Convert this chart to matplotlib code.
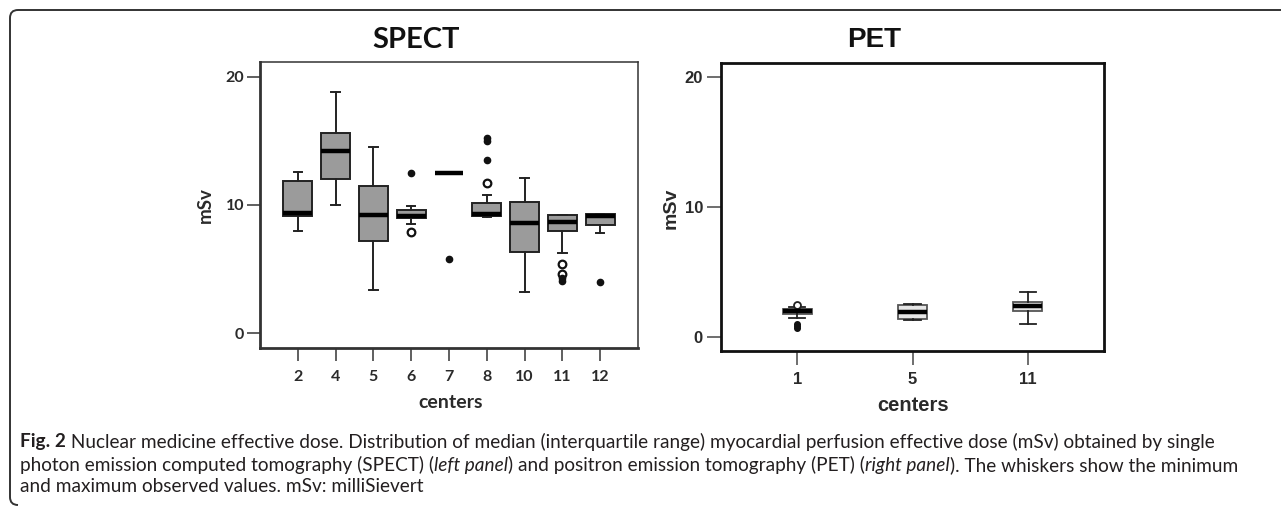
import matplotlib
matplotlib.use("Agg")
import matplotlib.pyplot as plt
from matplotlib.path import Path
from matplotlib.patches import PathPatch

W, H = 1281, 508

# SPECT data (mSv), one entry per center
spect_centers = ["2", "4", "5", "6", "7", "8", "10", "11", "12"]
spect_q1 = [9.16, 12.0, 7.16, 8.96, 12.5, 9.16, 6.35, 7.97, 8.46]
spect_med = [9.35, 14.24, 9.19, 9.16, 12.5, 9.32, 8.62, 8.67, 9.16]
spect_q3 = [11.9, 15.65, 11.48, 9.58, 12.5, 10.18, 10.26, 9.19, 9.27]
spect_lo = [7.97, 10.0, 3.36, 8.5, 12.5, 9.1, 3.18, 6.27, 7.79]
spect_hi = [12.6, 18.8, 14.5, 9.9, 12.5, 10.78, 12.1, 9.19, 9.27]
spect_open = [[], [], [], [7.86], [], [11.7], [], [5.41, 4.63], []]
spect_filled = [[], [], [], [12.47], [5.78], [13.5, 15.0, 15.2], [], [4.3, 4.1], [3.96]]

# PET data (mSv)
pet_centers = ["1", "5", "11"]
pet_q1 = [1.8, 1.44, 2.06]
pet_med = [2.0, 1.98, 2.44]
pet_q3 = [2.2, 2.52, 2.7]
pet_lo = [1.5, 1.35, 1.05]
pet_hi = [2.3, 2.6, 3.5]
pet_open = [[2.5], [], []]
pet_filled = [[1.05, 0.85, 0.75], [], []]

caption = [
    [("Fig. 2", "bold", "normal"),
     (" Nuclear medicine effective dose. Distribution of median (interquartile range) "
      "myocardial perfusion effective dose (mSv) obtained by single", "normal", "normal")],
    [("photon emission computed tomography (SPECT) (", "normal", "normal"),
     ("left panel", "normal", "italic"),
     (") and positron emission tomography (PET) (", "normal", "normal"),
     ("right panel", "normal", "italic"),
     ("). The whiskers show the minimum", "normal", "normal")],
    [("and maximum observed values. mSv: milliSievert", "normal", "normal")],
]
caption_widths = [1242, 1222, None]


def px_axes(l, t, r, b):
    return [l / W, (H - b) / H, (r - l) / W, (b - t) / H]


def stats(q1, med, q3, lo, hi):
    return [dict(q1=a, med=m, q3=c, whislo=d, whishi=e, fliers=[])
            for a, m, c, d, e in zip(q1, med, q3, lo, hi)]


fig = plt.figure(figsize=(W / 100, H / 100), dpi=100)
dark = "#2a2a2a"

# ---------- SPECT ----------
ax1 = fig.add_axes(px_axes(260, 62, 638, 348))
pos1 = list(range(1, len(spect_centers) + 1))
ax1.bxp(stats(spect_q1, spect_med, spect_q3, spect_lo, spect_hi), positions=pos1,
        widths=0.76, capwidths=0.22, patch_artist=True, showfliers=False,
        boxprops=dict(facecolor="#9b9b9b", edgecolor="#222222", linewidth=1.4),
        medianprops=dict(color="black", linewidth=3.2, solid_capstyle="butt"),
        whiskerprops=dict(color="#222222", linewidth=1.4),
        capprops=dict(color="#222222", linewidth=1.4))
for p, o, f in zip(pos1, spect_open, spect_filled):
    ax1.plot([p] * len(o), o, "o", ms=5.5, mfc="white", mec="#111111", mew=1.6)
    ax1.plot([p] * len(f), f, "o", ms=4.5, color="#111111")
ax1.set_xlim(0, 10)
ax1.set_ylim(-1.17, 21.17)
ax1.set_xticks(pos1)
ax1.set_xticklabels(spect_centers)
ax1.set_yticks([0, 10, 20])
for s in ["left", "bottom"]:
    ax1.spines[s].set_linewidth(2.0)
for s in ["top", "right"]:
    ax1.spines[s].set_linewidth(1.1)
for s in ax1.spines.values():
    s.set_color("#333333")
ax1.tick_params(axis="both", length=9.5, width=1.2, color="#444444",
                labelcolor=dark)
ax1.tick_params(axis="x", pad=6)
ax1.tick_params(axis="y", pad=2)
for lab in ax1.get_xticklabels() + ax1.get_yticklabels():
    lab.set_family("Lato")
    lab.set_weight("bold")
    lab.set_size(11.5)
ax1.set_ylabel("mSv", family="Lato", weight="bold", size=13.5, color=dark)
ax1.yaxis.set_label_coords(-0.123, 0.5)
ax1.set_xlabel("centers", family="Lato", weight="bold", size=14, color=dark)
ax1.xaxis.set_label_coords(0.503, -0.162)
fig.text(416 / W, 1 - 40 / H, "SPECT", family="Lato", weight="bold", size=21,
         color="#111111", ha="center", va="center")

# ---------- PET ----------
ax2 = fig.add_axes(px_axes(721, 63, 1104, 351))
pos2 = list(range(1, len(pet_centers) + 1))
ax2.bxp(stats(pet_q1, pet_med, pet_q3, pet_lo, pet_hi), positions=pos2,
        widths=0.25, capwidths=0.14, patch_artist=True, showfliers=False,
        boxprops=dict(facecolor="#e6e6e6", edgecolor="#555555", linewidth=1.3),
        medianprops=dict(color="black", linewidth=3.2, solid_capstyle="butt"),
        whiskerprops=dict(color="#222222", linewidth=1.3),
        capprops=dict(color="#222222", linewidth=1.3))
for p, o, f in zip(pos2, pet_open, pet_filled):
    ax2.plot([p] * len(o), o, "o", ms=5, mfc="white", mec="#222222", mew=1.3)
    ax2.plot([p] * len(f), f, "o", ms=4, color="#111111")
ax2.set_xlim(0.34, 3.66)
ax2.set_ylim(-1.05, 21.1)
ax2.set_xticks(pos2)
ax2.set_xticklabels(pet_centers)
ax2.set_yticks([0, 10, 20])
for s in ax2.spines.values():
    s.set_linewidth(2.0)
    s.set_color("#111111")
ax2.tick_params(axis="both", length=10, width=1.2, color="#555555",
                labelcolor=dark)
ax2.tick_params(axis="x", pad=5)
ax2.tick_params(axis="y", pad=3)
for lab in ax2.get_xticklabels() + ax2.get_yticklabels():
    lab.set_family("Liberation Sans")
    lab.set_weight("bold")
    lab.set_size(12)
ax2.set_ylabel("mSv", family="Liberation Sans", weight="bold", size=14, color=dark)
ax2.yaxis.set_label_coords(-0.107, 0.497)
ax2.set_xlabel("centers", family="Liberation Sans", weight="bold", size=14.5,
               color=dark)
ax2.xaxis.set_label_coords(0.501, -0.155)
fig.text(874 / W, 1 - 40 / H, "PET", family="Liberation Sans", weight="bold",
         size=20, color="#111111", ha="center", va="center")

# ---------- frame ----------
r = 8
verts = [(10 + r, 505), (10, 505), (10, 505 - r), (10, 10 + r), (10, 10),
         (10 + r, 10), (W + 5, 10)]
verts = [(x / W, 1 - y / H) for x, y in verts]
codes = [Path.MOVETO, Path.CURVE3, Path.CURVE3, Path.LINETO, Path.CURVE3,
         Path.CURVE3, Path.LINETO]
fig.add_artist(PathPatch(Path(verts, codes), fill=False, edgecolor="#333333",
                         lw=1.4, transform=fig.transFigure, clip_on=False))

# ---------- caption ----------
renderer = fig.canvas.get_renderer()
cap_font = "Lato"


def draw_line(segs, x, y, size):
    arts = []
    for s, wt, st in segs:
        t = fig.text(x / W, 1 - y / H, s, family=cap_font, weight=wt,
                     style=st, size=size, color="#231f20",
                     ha="left", va="center")
        x += t.get_window_extent(renderer).width
        arts.append(t)
    return x, arts


# measure at a probe size, then pick one size that fits the wrapped lines
probe_size = 10
scale = []
for segs, target in zip(caption, caption_widths):
    if target is None:
        continue
    end, arts = draw_line(segs, 20, 0, probe_size)
    for a in arts:
        a.remove()
    scale.append(target / (end - 20))
cap_size = probe_size * min(scale)

line_y = [442, 465, 487]
for segs, y in zip(caption, line_y):
    draw_line(segs, 20, y, cap_size)

fig.savefig("out.png", dpi=100)
